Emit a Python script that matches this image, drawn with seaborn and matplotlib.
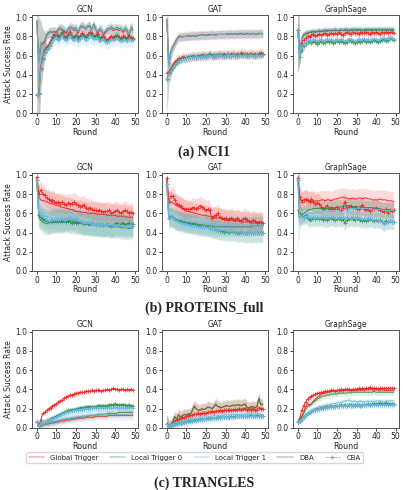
import pandas as pd
import seaborn as sns
import matplotlib.pyplot as plt
from matplotlib.lines import Line2D

rounds = list(range(50))
triggers = ["Global Trigger", "Local Trigger 0", "Local Trigger 1"]
methods = ["DBA", "CBA"]
models = ["GCN", "GAT", "GraphSage"]
captions = ["(a) NCI1", "(b) PROTEINS_full", "(c) TRIANGLES"]

# ---------------- NCI1 ----------------
nci1_gcn_global_dba = [
    0.96, 0.55, 0.70, 0.72, 0.74, 0.80, 0.83, 0.84, 0.84, 0.85,
    0.84, 0.86, 0.88, 0.86, 0.85, 0.83, 0.86, 0.88, 0.88, 0.86,
    0.87, 0.83, 0.88, 0.90, 0.89, 0.87, 0.90, 0.91, 0.87, 0.90,
    0.87, 0.83, 0.86, 0.86, 0.81, 0.84, 0.86, 0.87, 0.88, 0.86,
    0.87, 0.87, 0.86, 0.87, 0.84, 0.87, 0.85, 0.80, 0.88, 0.86]
nci1_gcn_local0_dba = [
    0.96, 0.53, 0.73, 0.73, 0.75, 0.82, 0.84, 0.85, 0.85, 0.85,
    0.83, 0.88, 0.89, 0.87, 0.86, 0.84, 0.88, 0.90, 0.89, 0.88,
    0.89, 0.84, 0.90, 0.91, 0.90, 0.88, 0.91, 0.90, 0.86, 0.93,
    0.88, 0.84, 0.88, 0.87, 0.82, 0.85, 0.88, 0.88, 0.90, 0.88,
    0.88, 0.89, 0.88, 0.88, 0.85, 0.89, 0.87, 0.81, 0.90, 0.88]
nci1_gcn_local1_dba = [
    0.96, 0.52, 0.72, 0.74, 0.76, 0.81, 0.83, 0.84, 0.85, 0.84,
    0.82, 0.87, 0.88, 0.88, 0.87, 0.85, 0.87, 0.89, 0.88, 0.87,
    0.88, 0.85, 0.89, 0.90, 0.89, 0.87, 0.90, 0.89, 0.86, 0.91,
    0.87, 0.85, 0.87, 0.87, 0.83, 0.86, 0.87, 0.87, 0.89, 0.87,
    0.88, 0.88, 0.87, 0.87, 0.86, 0.88, 0.86, 0.82, 0.89, 0.87]
nci1_gcn_global_cba = [
    0.19, 0.20, 0.47, 0.57, 0.66, 0.69, 0.71, 0.75, 0.79, 0.82,
    0.84, 0.80, 0.81, 0.84, 0.80, 0.79, 0.82, 0.85, 0.80, 0.79,
    0.81, 0.78, 0.80, 0.83, 0.81, 0.79, 0.82, 0.84, 0.83, 0.80,
    0.81, 0.82, 0.78, 0.79, 0.80, 0.77, 0.76, 0.78, 0.80, 0.79,
    0.80, 0.81, 0.79, 0.78, 0.80, 0.79, 0.78, 0.80, 0.79, 0.78]
nci1_gcn_local0_cba = [
    0.19, 0.21, 0.46, 0.56, 0.64, 0.67, 0.70, 0.73, 0.77, 0.79,
    0.81, 0.77, 0.80, 0.83, 0.78, 0.77, 0.80, 0.82, 0.79, 0.78,
    0.80, 0.77, 0.79, 0.81, 0.80, 0.78, 0.80, 0.82, 0.81, 0.79,
    0.80, 0.80, 0.77, 0.78, 0.79, 0.76, 0.75, 0.77, 0.79, 0.78,
    0.79, 0.80, 0.78, 0.77, 0.78, 0.78, 0.77, 0.79, 0.77, 0.77]
nci1_gcn_local1_cba = [
    0.19, 0.20, 0.45, 0.55, 0.63, 0.66, 0.68, 0.71, 0.75, 0.77,
    0.79, 0.76, 0.78, 0.81, 0.77, 0.76, 0.78, 0.80, 0.77, 0.76,
    0.78, 0.75, 0.77, 0.79, 0.78, 0.76, 0.78, 0.80, 0.79, 0.77,
    0.78, 0.78, 0.75, 0.76, 0.77, 0.74, 0.74, 0.75, 0.77, 0.76,
    0.77, 0.78, 0.76, 0.75, 0.76, 0.76, 0.75, 0.77, 0.76, 0.76]
nci1_gcn_band = [0.05, 0.05, 0.05, 0.04, 0.04, 0.07]
nci1_gcn_early = [0.6, 0.45, 0.25, 0.15, 0.1]

nci1_gat_global_dba = [
    0.98, 0.52, 0.63, 0.69, 0.73, 0.77, 0.80, 0.80, 0.79, 0.80,
    0.80, 0.81, 0.80, 0.81, 0.81, 0.80, 0.81, 0.81, 0.82, 0.81,
    0.81, 0.82, 0.81, 0.82, 0.82, 0.81, 0.82, 0.82, 0.82, 0.82,
    0.82, 0.82, 0.82, 0.83, 0.82, 0.82, 0.83, 0.82, 0.83, 0.83,
    0.82, 0.83, 0.83, 0.82, 0.83, 0.83, 0.82, 0.83, 0.83, 0.83]
nci1_gat_local0_dba = [
    0.98, 0.51, 0.62, 0.68, 0.72, 0.76, 0.79, 0.80, 0.80, 0.80,
    0.80, 0.80, 0.80, 0.81, 0.80, 0.81, 0.81, 0.81, 0.81, 0.81,
    0.81, 0.81, 0.82, 0.82, 0.81, 0.82, 0.82, 0.82, 0.82, 0.82,
    0.82, 0.83, 0.82, 0.82, 0.82, 0.83, 0.82, 0.83, 0.83, 0.82,
    0.83, 0.83, 0.82, 0.83, 0.83, 0.82, 0.83, 0.83, 0.83, 0.82]
nci1_gat_local1_dba = [
    0.98, 0.50, 0.62, 0.68, 0.72, 0.76, 0.79, 0.79, 0.80, 0.80,
    0.80, 0.80, 0.81, 0.80, 0.81, 0.81, 0.80, 0.81, 0.81, 0.81,
    0.82, 0.81, 0.81, 0.82, 0.82, 0.81, 0.82, 0.82, 0.82, 0.82,
    0.82, 0.82, 0.83, 0.82, 0.82, 0.82, 0.83, 0.82, 0.82, 0.83,
    0.83, 0.82, 0.83, 0.83, 0.82, 0.83, 0.83, 0.82, 0.83, 0.83]
nci1_gat_global_cba = [
    0.42, 0.43, 0.46, 0.50, 0.53, 0.55, 0.57, 0.56, 0.59, 0.58,
    0.57, 0.59, 0.58, 0.60, 0.59, 0.58, 0.60, 0.59, 0.61, 0.60,
    0.59, 0.60, 0.61, 0.60, 0.59, 0.61, 0.60, 0.61, 0.60, 0.62,
    0.60, 0.61, 0.60, 0.62, 0.61, 0.60, 0.62, 0.61, 0.63, 0.62,
    0.61, 0.62, 0.61, 0.62, 0.61, 0.62, 0.61, 0.62, 0.63, 0.62]
nci1_gat_local0_cba = [
    0.36, 0.42, 0.45, 0.48, 0.51, 0.53, 0.55, 0.56, 0.57, 0.57,
    0.58, 0.58, 0.59, 0.58, 0.60, 0.59, 0.60, 0.60, 0.59, 0.61,
    0.60, 0.61, 0.62, 0.60, 0.61, 0.60, 0.61, 0.62, 0.61, 0.60,
    0.61, 0.62, 0.61, 0.60, 0.62, 0.61, 0.60, 0.61, 0.62, 0.61,
    0.62, 0.60, 0.61, 0.62, 0.61, 0.60, 0.61, 0.62, 0.61, 0.62]
nci1_gat_local1_cba = [
    0.35, 0.41, 0.44, 0.47, 0.50, 0.52, 0.54, 0.55, 0.56, 0.56,
    0.57, 0.57, 0.58, 0.58, 0.58, 0.59, 0.59, 0.58, 0.59, 0.60,
    0.59, 0.60, 0.60, 0.59, 0.60, 0.60, 0.60, 0.61, 0.60, 0.59,
    0.60, 0.61, 0.60, 0.60, 0.61, 0.60, 0.60, 0.61, 0.60, 0.60,
    0.61, 0.60, 0.60, 0.61, 0.60, 0.60, 0.61, 0.60, 0.60, 0.61]
nci1_gat_band = [0.05, 0.04, 0.04, 0.05, 0.04, 0.04]
nci1_gat_early = [0.4, 0.12, 0.08]

nci1_sage_global_dba = [
    0.87, 0.62, 0.78, 0.82, 0.83, 0.84, 0.84, 0.85, 0.85, 0.85,
    0.85, 0.86, 0.85, 0.86, 0.86, 0.86, 0.86, 0.86, 0.86, 0.87,
    0.86, 0.86, 0.87, 0.86, 0.87, 0.87, 0.86, 0.87, 0.87, 0.87,
    0.87, 0.87, 0.87, 0.86, 0.87, 0.87, 0.87, 0.87, 0.87, 0.87,
    0.87, 0.87, 0.88, 0.87, 0.87, 0.87, 0.87, 0.87, 0.87, 0.87]
nci1_sage_local0_dba = [
    0.87, 0.60, 0.77, 0.81, 0.82, 0.83, 0.84, 0.84, 0.85, 0.84,
    0.85, 0.85, 0.85, 0.85, 0.86, 0.85, 0.86, 0.86, 0.86, 0.86,
    0.86, 0.86, 0.86, 0.86, 0.86, 0.87, 0.86, 0.86, 0.86, 0.87,
    0.86, 0.86, 0.87, 0.86, 0.86, 0.86, 0.87, 0.86, 0.86, 0.87,
    0.86, 0.87, 0.86, 0.86, 0.87, 0.86, 0.86, 0.87, 0.86, 0.86]
nci1_sage_local1_dba = [
    0.87, 0.61, 0.79, 0.83, 0.84, 0.85, 0.85, 0.86, 0.86, 0.86,
    0.86, 0.87, 0.86, 0.87, 0.87, 0.87, 0.87, 0.87, 0.87, 0.88,
    0.87, 0.87, 0.88, 0.87, 0.88, 0.88, 0.87, 0.88, 0.88, 0.88,
    0.88, 0.88, 0.88, 0.87, 0.88, 0.88, 0.88, 0.88, 0.88, 0.88,
    0.88, 0.88, 0.88, 0.88, 0.88, 0.88, 0.88, 0.88, 0.88, 0.88]
nci1_sage_global_cba = [
    0.87, 0.64, 0.73, 0.76, 0.78, 0.80, 0.79, 0.81, 0.82, 0.80,
    0.81, 0.82, 0.81, 0.82, 0.83, 0.81, 0.82, 0.83, 0.82, 0.83,
    0.82, 0.84, 0.82, 0.81, 0.83, 0.84, 0.83, 0.82, 0.84, 0.83,
    0.83, 0.82, 0.84, 0.83, 0.83, 0.84, 0.83, 0.82, 0.84, 0.83,
    0.84, 0.83, 0.82, 0.84, 0.83, 0.84, 0.83, 0.84, 0.84, 0.83]
nci1_sage_local0_cba = [
    0.87, 0.58, 0.66, 0.70, 0.72, 0.74, 0.75, 0.73, 0.75, 0.74,
    0.72, 0.74, 0.75, 0.73, 0.74, 0.75, 0.74, 0.75, 0.73, 0.74,
    0.76, 0.74, 0.75, 0.74, 0.73, 0.74, 0.76, 0.75, 0.74, 0.73,
    0.74, 0.75, 0.74, 0.75, 0.76, 0.74, 0.75, 0.74, 0.75, 0.76,
    0.75, 0.74, 0.75, 0.76, 0.77, 0.75, 0.76, 0.78, 0.77, 0.76]
nci1_sage_local1_cba = [
    0.87, 0.59, 0.68, 0.72, 0.74, 0.76, 0.76, 0.75, 0.77, 0.76,
    0.75, 0.76, 0.77, 0.75, 0.76, 0.77, 0.76, 0.77, 0.75, 0.76,
    0.77, 0.76, 0.77, 0.76, 0.75, 0.76, 0.77, 0.77, 0.76, 0.75,
    0.76, 0.77, 0.76, 0.77, 0.77, 0.76, 0.77, 0.76, 0.77, 0.77,
    0.77, 0.76, 0.77, 0.78, 0.78, 0.77, 0.78, 0.79, 0.78, 0.77]
nci1_sage_band = [0.03, 0.03, 0.03, 0.03, 0.03, 0.03]
nci1_sage_early = [0.45, 0.08]

# ---------------- PROTEINS_full ----------------
proteins_gcn_global_dba = [
    0.97, 0.77, 0.74, 0.73, 0.73, 0.72, 0.71, 0.70, 0.70, 0.69,
    0.68, 0.68, 0.67, 0.66, 0.66, 0.65, 0.65, 0.64, 0.64, 0.63,
    0.62, 0.62, 0.62, 0.61, 0.61, 0.61, 0.60, 0.60, 0.60, 0.60,
    0.60, 0.59, 0.59, 0.59, 0.59, 0.59, 0.58, 0.58, 0.58, 0.58,
    0.58, 0.57, 0.57, 0.57, 0.57, 0.57, 0.56, 0.56, 0.56, 0.56]
proteins_gcn_local0_dba = [
    0.95, 0.56, 0.53, 0.51, 0.50, 0.49, 0.50, 0.51, 0.51, 0.52,
    0.52, 0.53, 0.52, 0.53, 0.53, 0.54, 0.53, 0.52, 0.53, 0.52,
    0.52, 0.51, 0.50, 0.50, 0.49, 0.49, 0.49, 0.48, 0.48, 0.48,
    0.48, 0.48, 0.47, 0.47, 0.47, 0.47, 0.47, 0.46, 0.46, 0.46,
    0.46, 0.46, 0.46, 0.45, 0.45, 0.45, 0.45, 0.44, 0.45, 0.45]
proteins_gcn_local1_dba = [
    0.95, 0.62, 0.61, 0.60, 0.58, 0.57, 0.56, 0.56, 0.55, 0.55,
    0.54, 0.55, 0.54, 0.53, 0.54, 0.55, 0.54, 0.55, 0.54, 0.54,
    0.53, 0.53, 0.52, 0.52, 0.51, 0.51, 0.50, 0.50, 0.50, 0.49,
    0.50, 0.49, 0.49, 0.49, 0.48, 0.48, 0.49, 0.48, 0.48, 0.48,
    0.48, 0.47, 0.48, 0.47, 0.47, 0.47, 0.47, 0.47, 0.47, 0.47]
proteins_gcn_global_cba = [
    0.98, 0.80, 0.84, 0.80, 0.79, 0.76, 0.75, 0.73, 0.74, 0.72,
    0.71, 0.72, 0.70, 0.72, 0.70, 0.69, 0.71, 0.70, 0.70, 0.72,
    0.70, 0.69, 0.67, 0.68, 0.69, 0.66, 0.65, 0.66, 0.64, 0.63,
    0.63, 0.62, 0.63, 0.62, 0.61, 0.62, 0.62, 0.63, 0.60, 0.61,
    0.62, 0.63, 0.61, 0.60, 0.62, 0.63, 0.62, 0.60, 0.61, 0.60]
proteins_gcn_local0_cba = [
    0.95, 0.58, 0.56, 0.54, 0.53, 0.52, 0.51, 0.51, 0.52, 0.51,
    0.52, 0.51, 0.52, 0.51, 0.52, 0.51, 0.52, 0.51, 0.50, 0.51,
    0.50, 0.50, 0.51, 0.50, 0.49, 0.50, 0.49, 0.49, 0.50, 0.49,
    0.48, 0.49, 0.48, 0.49, 0.48, 0.48, 0.49, 0.48, 0.47, 0.48,
    0.49, 0.50, 0.48, 0.49, 0.50, 0.48, 0.49, 0.50, 0.48, 0.49]
proteins_gcn_local1_cba = [
    0.95, 0.60, 0.58, 0.57, 0.55, 0.53, 0.52, 0.53, 0.54, 0.53,
    0.54, 0.53, 0.54, 0.55, 0.53, 0.54, 0.55, 0.56, 0.55, 0.54,
    0.55, 0.53, 0.52, 0.51, 0.50, 0.50, 0.51, 0.50, 0.49, 0.49,
    0.48, 0.49, 0.48, 0.48, 0.49, 0.48, 0.48, 0.49, 0.48, 0.48,
    0.47, 0.48, 0.48, 0.47, 0.47, 0.46, 0.47, 0.47, 0.48, 0.47]
proteins_gcn_band = [0.12, 0.12, 0.12, 0.10, 0.12, 0.12]
proteins_gcn_early = []

proteins_gat_global_dba = [
    0.95, 0.71, 0.72, 0.71, 0.70, 0.68, 0.67, 0.66, 0.65, 0.64,
    0.62, 0.62, 0.61, 0.61, 0.60, 0.60, 0.59, 0.59, 0.58, 0.58,
    0.58, 0.57, 0.57, 0.56, 0.56, 0.55, 0.55, 0.55, 0.54, 0.54,
    0.53, 0.53, 0.53, 0.53, 0.52, 0.52, 0.52, 0.52, 0.51, 0.51,
    0.51, 0.51, 0.51, 0.50, 0.50, 0.50, 0.50, 0.50, 0.50, 0.50]
proteins_gat_local0_dba = [
    0.92, 0.56, 0.56, 0.55, 0.54, 0.53, 0.52, 0.52, 0.51, 0.51,
    0.50, 0.50, 0.50, 0.49, 0.49, 0.49, 0.48, 0.48, 0.48, 0.48,
    0.47, 0.47, 0.47, 0.47, 0.46, 0.46, 0.46, 0.46, 0.46, 0.46,
    0.46, 0.46, 0.46, 0.46, 0.46, 0.46, 0.46, 0.46, 0.46, 0.46,
    0.46, 0.46, 0.46, 0.46, 0.47, 0.47, 0.47, 0.47, 0.47, 0.47]
proteins_gat_local1_dba = [
    0.92, 0.57, 0.58, 0.57, 0.56, 0.55, 0.54, 0.54, 0.53, 0.53,
    0.52, 0.52, 0.52, 0.51, 0.51, 0.51, 0.50, 0.50, 0.50, 0.50,
    0.50, 0.49, 0.49, 0.49, 0.49, 0.49, 0.48, 0.48, 0.48, 0.48,
    0.48, 0.48, 0.48, 0.48, 0.47, 0.47, 0.47, 0.47, 0.47, 0.47,
    0.47, 0.47, 0.47, 0.47, 0.47, 0.47, 0.47, 0.47, 0.47, 0.47]
proteins_gat_global_cba = [
    0.97, 0.72, 0.78, 0.78, 0.74, 0.70, 0.69, 0.68, 0.66, 0.64,
    0.65, 0.64, 0.64, 0.66, 0.66, 0.65, 0.66, 0.68, 0.67, 0.65,
    0.63, 0.64, 0.63, 0.55, 0.57, 0.58, 0.60, 0.56, 0.55, 0.54,
    0.55, 0.53, 0.54, 0.55, 0.54, 0.53, 0.55, 0.53, 0.52, 0.54,
    0.55, 0.53, 0.52, 0.51, 0.53, 0.52, 0.50, 0.51, 0.51, 0.50]
proteins_gat_local0_cba = [
    0.90, 0.55, 0.57, 0.56, 0.54, 0.53, 0.52, 0.52, 0.51, 0.51,
    0.50, 0.50, 0.49, 0.49, 0.49, 0.48, 0.48, 0.47, 0.47, 0.46,
    0.47, 0.46, 0.45, 0.44, 0.44, 0.43, 0.43, 0.42, 0.42, 0.41,
    0.42, 0.41, 0.41, 0.42, 0.41, 0.41, 0.40, 0.40, 0.41, 0.40,
    0.39, 0.40, 0.40, 0.39, 0.40, 0.40, 0.39, 0.40, 0.40, 0.40]
proteins_gat_local1_cba = [
    0.90, 0.54, 0.56, 0.55, 0.53, 0.52, 0.51, 0.50, 0.50, 0.49,
    0.49, 0.48, 0.48, 0.47, 0.47, 0.47, 0.46, 0.46, 0.46, 0.46,
    0.46, 0.45, 0.45, 0.44, 0.44, 0.44, 0.43, 0.43, 0.43, 0.43,
    0.43, 0.42, 0.42, 0.42, 0.42, 0.41, 0.41, 0.41, 0.41, 0.40,
    0.40, 0.41, 0.40, 0.40, 0.40, 0.40, 0.40, 0.40, 0.40, 0.40]
proteins_gat_band = [0.11, 0.10, 0.10, 0.10, 0.10, 0.10]
proteins_gat_early = []

proteins_sage_global_dba = [
    0.96, 0.76, 0.73, 0.74, 0.74, 0.73, 0.73, 0.72, 0.73, 0.73,
    0.73, 0.73, 0.74, 0.74, 0.73, 0.74, 0.74, 0.73, 0.74, 0.75,
    0.75, 0.76, 0.76, 0.77, 0.76, 0.76, 0.75, 0.75, 0.76, 0.75,
    0.75, 0.76, 0.76, 0.75, 0.76, 0.76, 0.75, 0.75, 0.74, 0.74,
    0.74, 0.74, 0.75, 0.74, 0.74, 0.74, 0.73, 0.73, 0.73, 0.72]
proteins_sage_local0_dba = [
    0.64, 0.56, 0.58, 0.60, 0.61, 0.63, 0.64, 0.64, 0.65, 0.65,
    0.65, 0.65, 0.65, 0.65, 0.65, 0.65, 0.65, 0.66, 0.66, 0.66,
    0.66, 0.66, 0.67, 0.67, 0.67, 0.68, 0.68, 0.68, 0.67, 0.67,
    0.67, 0.67, 0.67, 0.66, 0.66, 0.66, 0.66, 0.66, 0.66, 0.65,
    0.65, 0.65, 0.65, 0.64, 0.64, 0.64, 0.64, 0.64, 0.63, 0.63]
proteins_sage_local1_dba = [
    0.95, 0.58, 0.57, 0.58, 0.59, 0.59, 0.60, 0.60, 0.60, 0.61,
    0.61, 0.61, 0.61, 0.62, 0.62, 0.62, 0.62, 0.62, 0.63, 0.63,
    0.63, 0.63, 0.64, 0.64, 0.64, 0.64, 0.64, 0.65, 0.65, 0.65,
    0.65, 0.65, 0.65, 0.65, 0.65, 0.65, 0.65, 0.64, 0.64, 0.64,
    0.64, 0.64, 0.64, 0.63, 0.63, 0.63, 0.63, 0.63, 0.63, 0.63]
proteins_sage_global_cba = [
    0.97, 0.77, 0.72, 0.74, 0.75, 0.74, 0.72, 0.75, 0.72, 0.70,
    0.71, 0.70, 0.67, 0.65, 0.66, 0.68, 0.65, 0.66, 0.64, 0.65,
    0.67, 0.65, 0.63, 0.66, 0.72, 0.65, 0.67, 0.68, 0.66, 0.67,
    0.65, 0.64, 0.66, 0.69, 0.65, 0.63, 0.64, 0.62, 0.64, 0.65,
    0.66, 0.64, 0.63, 0.62, 0.61, 0.64, 0.60, 0.63, 0.62, 0.63]
proteins_sage_local0_cba = [
    0.95, 0.60, 0.57, 0.56, 0.58, 0.55, 0.53, 0.54, 0.55, 0.54,
    0.55, 0.54, 0.55, 0.53, 0.54, 0.53, 0.54, 0.55, 0.54, 0.53,
    0.54, 0.55, 0.53, 0.54, 0.50, 0.53, 0.54, 0.55, 0.54, 0.53,
    0.55, 0.54, 0.53, 0.52, 0.53, 0.52, 0.53, 0.54, 0.53, 0.52,
    0.53, 0.52, 0.53, 0.51, 0.50, 0.52, 0.51, 0.52, 0.51, 0.51]
proteins_sage_local1_cba = [
    0.95, 0.57, 0.56, 0.56, 0.57, 0.56, 0.56, 0.55, 0.56, 0.55,
    0.56, 0.55, 0.56, 0.56, 0.55, 0.56, 0.55, 0.56, 0.56, 0.55,
    0.55, 0.56, 0.55, 0.56, 0.55, 0.56, 0.55, 0.55, 0.56, 0.55,
    0.56, 0.55, 0.55, 0.54, 0.55, 0.54, 0.55, 0.54, 0.54, 0.53,
    0.54, 0.53, 0.52, 0.51, 0.49, 0.50, 0.51, 0.52, 0.51, 0.51]
proteins_sage_band = [0.10, 0.08, 0.08, 0.10, 0.08, 0.08]
proteins_sage_early = [0.42, 0.12]

# ---------------- TRIANGLES ----------------
triangles_gcn_global_dba = [
    0.06, 0.02, 0.03, 0.03, 0.04, 0.04, 0.04, 0.05, 0.05, 0.05,
    0.06, 0.06, 0.07, 0.07, 0.07, 0.08, 0.08, 0.08, 0.09, 0.09,
    0.09, 0.10, 0.10, 0.10, 0.10, 0.11, 0.11, 0.11, 0.11, 0.11,
    0.12, 0.12, 0.12, 0.12, 0.12, 0.12, 0.12, 0.13, 0.13, 0.13,
    0.13, 0.13, 0.13, 0.13, 0.13, 0.13, 0.13, 0.13, 0.13, 0.13]
triangles_gcn_local0_dba = [
    0.06, 0.02, 0.03, 0.03, 0.04, 0.04, 0.05, 0.05, 0.06, 0.06,
    0.07, 0.07, 0.08, 0.08, 0.09, 0.09, 0.09, 0.10, 0.10, 0.10,
    0.11, 0.11, 0.11, 0.12, 0.12, 0.12, 0.12, 0.13, 0.13, 0.13,
    0.13, 0.14, 0.14, 0.14, 0.14, 0.14, 0.15, 0.15, 0.15, 0.15,
    0.15, 0.15, 0.16, 0.16, 0.16, 0.16, 0.16, 0.16, 0.16, 0.16]
triangles_gcn_local1_dba = [
    0.06, 0.02, 0.03, 0.04, 0.04, 0.05, 0.05, 0.06, 0.06, 0.07,
    0.07, 0.08, 0.08, 0.09, 0.09, 0.10, 0.10, 0.10, 0.11, 0.11,
    0.11, 0.12, 0.12, 0.12, 0.12, 0.12, 0.13, 0.13, 0.13, 0.13,
    0.13, 0.13, 0.13, 0.14, 0.14, 0.14, 0.14, 0.14, 0.14, 0.14,
    0.14, 0.14, 0.14, 0.14, 0.14, 0.14, 0.14, 0.14, 0.14, 0.14]
triangles_gcn_global_cba = [
    0.06, 0.02, 0.08, 0.15, 0.16, 0.18, 0.20, 0.21, 0.23, 0.24,
    0.25, 0.27, 0.28, 0.29, 0.31, 0.32, 0.33, 0.34, 0.34, 0.35,
    0.36, 0.36, 0.37, 0.37, 0.37, 0.38, 0.38, 0.38, 0.39, 0.38,
    0.39, 0.39, 0.39, 0.38, 0.39, 0.39, 0.40, 0.39, 0.40, 0.41,
    0.40, 0.40, 0.39, 0.40, 0.40, 0.39, 0.40, 0.39, 0.40, 0.39]
triangles_gcn_local0_cba = [
    0.06, 0.02, 0.04, 0.05, 0.06, 0.07, 0.08, 0.09, 0.10, 0.11,
    0.12, 0.13, 0.14, 0.15, 0.16, 0.17, 0.18, 0.18, 0.19, 0.19,
    0.20, 0.20, 0.21, 0.21, 0.21, 0.22, 0.22, 0.22, 0.22, 0.22,
    0.22, 0.23, 0.23, 0.23, 0.23, 0.23, 0.23, 0.24, 0.24, 0.24,
    0.25, 0.24, 0.24, 0.24, 0.24, 0.24, 0.23, 0.24, 0.23, 0.23]
triangles_gcn_local1_cba = [
    0.06, 0.02, 0.04, 0.05, 0.06, 0.07, 0.08, 0.08, 0.09, 0.10,
    0.11, 0.12, 0.13, 0.14, 0.15, 0.16, 0.16, 0.17, 0.17, 0.18,
    0.18, 0.19, 0.19, 0.19, 0.20, 0.20, 0.20, 0.20, 0.21, 0.21,
    0.21, 0.21, 0.21, 0.21, 0.21, 0.21, 0.21, 0.21, 0.21, 0.21,
    0.22, 0.21, 0.21, 0.21, 0.21, 0.21, 0.21, 0.21, 0.21, 0.21]
triangles_gcn_band = [0.02, 0.03, 0.06, 0.015, 0.025, 0.04]
triangles_gcn_early = [0.03]

triangles_gat_global_dba = [
    0.04, 0.02, 0.03, 0.06, 0.12, 0.09, 0.14, 0.11, 0.13, 0.14,
    0.13, 0.15, 0.14, 0.18, 0.23, 0.20, 0.18, 0.19, 0.20, 0.19,
    0.20, 0.22, 0.21, 0.20, 0.22, 0.25, 0.22, 0.22, 0.21, 0.22,
    0.23, 0.23, 0.22, 0.23, 0.24, 0.23, 0.24, 0.24, 0.23, 0.24,
    0.25, 0.21, 0.21, 0.22, 0.22, 0.21, 0.22, 0.31, 0.24, 0.25]
triangles_gat_local0_dba = [
    0.04, 0.02, 0.03, 0.05, 0.11, 0.09, 0.13, 0.11, 0.12, 0.14,
    0.13, 0.14, 0.14, 0.17, 0.22, 0.20, 0.18, 0.18, 0.19, 0.19,
    0.20, 0.21, 0.21, 0.20, 0.21, 0.24, 0.22, 0.21, 0.21, 0.22,
    0.22, 0.23, 0.22, 0.23, 0.23, 0.23, 0.24, 0.23, 0.23, 0.24,
    0.24, 0.21, 0.21, 0.21, 0.22, 0.21, 0.22, 0.30, 0.24, 0.24]
triangles_gat_local1_dba = [
    0.04, 0.02, 0.03, 0.04, 0.05, 0.06, 0.06, 0.07, 0.07, 0.08,
    0.08, 0.09, 0.09, 0.09, 0.10, 0.10, 0.10, 0.11, 0.11, 0.11,
    0.12, 0.12, 0.12, 0.12, 0.13, 0.13, 0.13, 0.13, 0.13, 0.13,
    0.14, 0.14, 0.14, 0.14, 0.14, 0.14, 0.14, 0.14, 0.14, 0.14,
    0.15, 0.14, 0.14, 0.14, 0.14, 0.14, 0.14, 0.15, 0.14, 0.14]
triangles_gat_global_cba = [
    0.04, 0.02, 0.03, 0.05, 0.07, 0.08, 0.09, 0.10, 0.11, 0.10,
    0.12, 0.12, 0.13, 0.13, 0.14, 0.14, 0.15, 0.14, 0.15, 0.15,
    0.15, 0.16, 0.16, 0.17, 0.16, 0.17, 0.17, 0.18, 0.17, 0.18,
    0.18, 0.18, 0.19, 0.18, 0.19, 0.19, 0.19, 0.20, 0.19, 0.20,
    0.20, 0.19, 0.20, 0.19, 0.20, 0.19, 0.19, 0.21, 0.20, 0.20]
triangles_gat_local0_cba = [
    0.04, 0.02, 0.03, 0.03, 0.04, 0.04, 0.05, 0.05, 0.05, 0.06,
    0.06, 0.07, 0.07, 0.07, 0.08, 0.08, 0.08, 0.09, 0.09, 0.09,
    0.09, 0.10, 0.10, 0.10, 0.10, 0.10, 0.11, 0.11, 0.11, 0.11,
    0.11, 0.11, 0.11, 0.12, 0.11, 0.12, 0.12, 0.12, 0.12, 0.12,
    0.12, 0.12, 0.12, 0.13, 0.12, 0.12, 0.13, 0.12, 0.12, 0.12]
triangles_gat_local1_cba = [
    0.04, 0.02, 0.02, 0.03, 0.03, 0.04, 0.04, 0.05, 0.05, 0.05,
    0.06, 0.06, 0.06, 0.07, 0.07, 0.07, 0.08, 0.08, 0.08, 0.09,
    0.09, 0.09, 0.09, 0.10, 0.10, 0.10, 0.10, 0.10, 0.11, 0.11,
    0.11, 0.11, 0.11, 0.11, 0.11, 0.11, 0.12, 0.12, 0.12, 0.12,
    0.12, 0.12, 0.12, 0.12, 0.12, 0.12, 0.12, 0.12, 0.12, 0.12]
triangles_gat_band = [0.06, 0.06, 0.04, 0.03, 0.02, 0.04]
triangles_gat_early = [0.1]

triangles_sage_global_dba = [
    0.06, 0.08, 0.12, 0.16, 0.22, 0.25, 0.23, 0.25, 0.28, 0.30,
    0.32, 0.33, 0.35, 0.36, 0.36, 0.37, 0.37, 0.38, 0.38, 0.38,
    0.38, 0.39, 0.38, 0.39, 0.39, 0.39, 0.39, 0.39, 0.39, 0.39,
    0.39, 0.39, 0.40, 0.39, 0.40, 0.40, 0.40, 0.40, 0.40, 0.39,
    0.40, 0.40, 0.39, 0.40, 0.39, 0.39, 0.39, 0.39, 0.39, 0.39]
triangles_sage_local0_dba = [
    0.06, 0.08, 0.11, 0.15, 0.19, 0.22, 0.24, 0.25, 0.27, 0.28,
    0.30, 0.31, 0.32, 0.33, 0.33, 0.34, 0.34, 0.35, 0.35, 0.35,
    0.35, 0.36, 0.36, 0.36, 0.36, 0.36, 0.37, 0.36, 0.37, 0.37,
    0.37, 0.37, 0.37, 0.37, 0.37, 0.37, 0.37, 0.37, 0.37, 0.38,
    0.37, 0.37, 0.37, 0.37, 0.37, 0.37, 0.37, 0.37, 0.37, 0.37]
triangles_sage_local1_dba = [
    0.06, 0.07, 0.09, 0.11, 0.13, 0.15, 0.17, 0.18, 0.19, 0.20,
    0.21, 0.22, 0.22, 0.23, 0.23, 0.24, 0.24, 0.25, 0.25, 0.25,
    0.26, 0.26, 0.26, 0.27, 0.28, 0.28, 0.29, 0.28, 0.27, 0.28,
    0.27, 0.27, 0.28, 0.27, 0.27, 0.27, 0.28, 0.27, 0.28, 0.27,
    0.28, 0.28, 0.28, 0.28, 0.27, 0.28, 0.28, 0.28, 0.28, 0.28]
triangles_sage_global_cba = [
    0.06, 0.10, 0.18, 0.23, 0.27, 0.30, 0.32, 0.33, 0.34, 0.35,
    0.36, 0.36, 0.37, 0.37, 0.38, 0.38, 0.38, 0.39, 0.39, 0.38,
    0.39, 0.39, 0.40, 0.39, 0.40, 0.40, 0.40, 0.39, 0.40, 0.40,
    0.40, 0.41, 0.40, 0.41, 0.40, 0.41, 0.41, 0.42, 0.41, 0.41,
    0.41, 0.40, 0.41, 0.41, 0.41, 0.41, 0.41, 0.41, 0.41, 0.41]
triangles_sage_local0_cba = [
    0.06, 0.07, 0.09, 0.11, 0.13, 0.15, 0.16, 0.17, 0.18, 0.19,
    0.20, 0.20, 0.21, 0.21, 0.22, 0.22, 0.22, 0.23, 0.22, 0.23,
    0.23, 0.23, 0.24, 0.23, 0.24, 0.23, 0.24, 0.24, 0.23, 0.24,
    0.24, 0.24, 0.23, 0.24, 0.24, 0.24, 0.25, 0.24, 0.25, 0.25,
    0.25, 0.25, 0.26, 0.25, 0.25, 0.26, 0.25, 0.25, 0.25, 0.25]
triangles_sage_local1_cba = [
    0.06, 0.07, 0.09, 0.11, 0.13, 0.14, 0.16, 0.17, 0.18, 0.18,
    0.19, 0.20, 0.20, 0.21, 0.21, 0.21, 0.22, 0.22, 0.22, 0.22,
    0.23, 0.23, 0.23, 0.23, 0.23, 0.23, 0.24, 0.23, 0.24, 0.23,
    0.24, 0.24, 0.24, 0.24, 0.24, 0.24, 0.24, 0.24, 0.24, 0.24,
    0.24, 0.24, 0.24, 0.24, 0.24, 0.24, 0.24, 0.24, 0.24, 0.24]
triangles_sage_band = [0.02, 0.03, 0.03, 0.015, 0.02, 0.04]
triangles_sage_early = []

# order of lines inside each panel
line_keys = [(t, "DBA") for t in triggers] + [(t, "CBA") for t in triggers]

panels = [
    [([nci1_gcn_global_dba, nci1_gcn_local0_dba, nci1_gcn_local1_dba,
       nci1_gcn_global_cba, nci1_gcn_local0_cba, nci1_gcn_local1_cba], nci1_gcn_band, nci1_gcn_early),
     ([nci1_gat_global_dba, nci1_gat_local0_dba, nci1_gat_local1_dba,
       nci1_gat_global_cba, nci1_gat_local0_cba, nci1_gat_local1_cba], nci1_gat_band, nci1_gat_early),
     ([nci1_sage_global_dba, nci1_sage_local0_dba, nci1_sage_local1_dba,
       nci1_sage_global_cba, nci1_sage_local0_cba, nci1_sage_local1_cba], nci1_sage_band, nci1_sage_early)],
    [([proteins_gcn_global_dba, proteins_gcn_local0_dba, proteins_gcn_local1_dba,
       proteins_gcn_global_cba, proteins_gcn_local0_cba, proteins_gcn_local1_cba], proteins_gcn_band, proteins_gcn_early),
     ([proteins_gat_global_dba, proteins_gat_local0_dba, proteins_gat_local1_dba,
       proteins_gat_global_cba, proteins_gat_local0_cba, proteins_gat_local1_cba], proteins_gat_band, proteins_gat_early),
     ([proteins_sage_global_dba, proteins_sage_local0_dba, proteins_sage_local1_dba,
       proteins_sage_global_cba, proteins_sage_local0_cba, proteins_sage_local1_cba], proteins_sage_band, proteins_sage_early)],
    [([triangles_gcn_global_dba, triangles_gcn_local0_dba, triangles_gcn_local1_dba,
       triangles_gcn_global_cba, triangles_gcn_local0_cba, triangles_gcn_local1_cba], triangles_gcn_band, triangles_gcn_early),
     ([triangles_gat_global_dba, triangles_gat_local0_dba, triangles_gat_local1_dba,
       triangles_gat_global_cba, triangles_gat_local0_cba, triangles_gat_local1_cba], triangles_gat_band, triangles_gat_early),
     ([triangles_sage_global_dba, triangles_sage_local0_dba, triangles_sage_local1_dba,
       triangles_sage_global_cba, triangles_sage_local0_cba, triangles_sage_local1_cba], triangles_sage_band, triangles_sage_early)],
]


def panel_frame(lines, band, early):
    # three samples per round (mean, mean -/+ spread) so seaborn draws the band
    rows = []
    for (trig, meth), vals, w in zip(line_keys, lines, band):
        for r, v in zip(rounds, vals):
            h = max(w, early[r]) if r < len(early) else w
            for s in (v - h, v, v + h):
                rows.append((r, s, trig, meth))
    return pd.DataFrame(rows, columns=["Round", "ASR", "Trigger", "Method"])


palette = {"Global Trigger": "#f02424", "Local Trigger 0": "#2b8f47", "Local Trigger 1": "#6db5e6"}

sns.set_style("ticks")
plt.rcParams["font.family"] = ["DejaVu Sans"]

fig = plt.figure(figsize=(4.03, 4.90), dpi=100)

lefts = [0.0794, 0.402, 0.727]
bottoms = [0.769, 0.447, 0.127]
w_ax, h_ax = 0.262, 0.2

for i, row in enumerate(panels):
    for j, (lines, band, early) in enumerate(row):
        ax = fig.add_axes([lefts[j], bottoms[i], w_ax, h_ax])
        df = panel_frame(lines, band, early)
        sns.lineplot(
            data=df, x="Round", y="ASR", hue="Trigger", style="Method",
            hue_order=triggers, style_order=methods, palette=palette,
            markers={"DBA": "", "CBA": "+"}, dashes=False,
            errorbar=("pi", 100), err_kws={"alpha": 0.16, "linewidth": 0},
            linewidth=0.8, markersize=3, markeredgewidth=0.6, alpha=0.85,
            legend=False, ax=ax,
        )
        # seaborn paints marker edges white; give the "+" the line colour
        for ln in ax.lines:
            ln.set_markeredgecolor(ln.get_color())
        ax.set_ylim(0, 1.02)
        ax.set_xlim(-2.45, 51.45)
        ax.set_yticks([0.0, 0.2, 0.4, 0.6, 0.8, 1.0])
        ax.set_xticks([0, 10, 20, 30, 40, 50])
        ax.set_title(models[j], fontsize=5.5, pad=2)
        ax.set_xlabel("Round", fontsize=5.8, labelpad=0.5)
        if j == 0:
            ax.set_ylabel("Attack Success Rate", fontsize=5.5, labelpad=1.5)
        else:
            ax.set_ylabel("")
        ax.tick_params(labelsize=5.5, length=2.2, width=0.6, pad=1.2)
        for sp in ax.spines.values():
            sp.set_visible(True)
            sp.set_color("#555555")
            sp.set_linewidth(0.7)

caption_y = [0.690, 0.371, 0.014]
for i, cap in enumerate(captions):
    fig.text(0.506, caption_y[i], cap, ha="center", va="center",
             fontfamily="Liberation Serif", fontweight="bold", fontsize=10)

handles = [
    Line2D([], [], color=palette["Global Trigger"], lw=1.2, alpha=0.35),
    Line2D([], [], color=palette["Local Trigger 0"], lw=1.2, alpha=0.35),
    Line2D([], [], color=palette["Local Trigger 1"], lw=1.2, alpha=0.35),
    Line2D([], [], color="#999999", lw=1.2, alpha=0.5),
    Line2D([], [], color="#999999", lw=0.6, ls="--", marker="+", markersize=3, alpha=0.8),
]
fig.legend(handles, triggers + methods, loc="center", bbox_to_anchor=(0.483, 0.066),
           ncol=5, fontsize=5, frameon=True, handlelength=2.2, columnspacing=1.6,
           borderpad=0.35, handletextpad=0.9, edgecolor="#cccccc", fancybox=True)

fig.savefig("out.png", dpi=100)
